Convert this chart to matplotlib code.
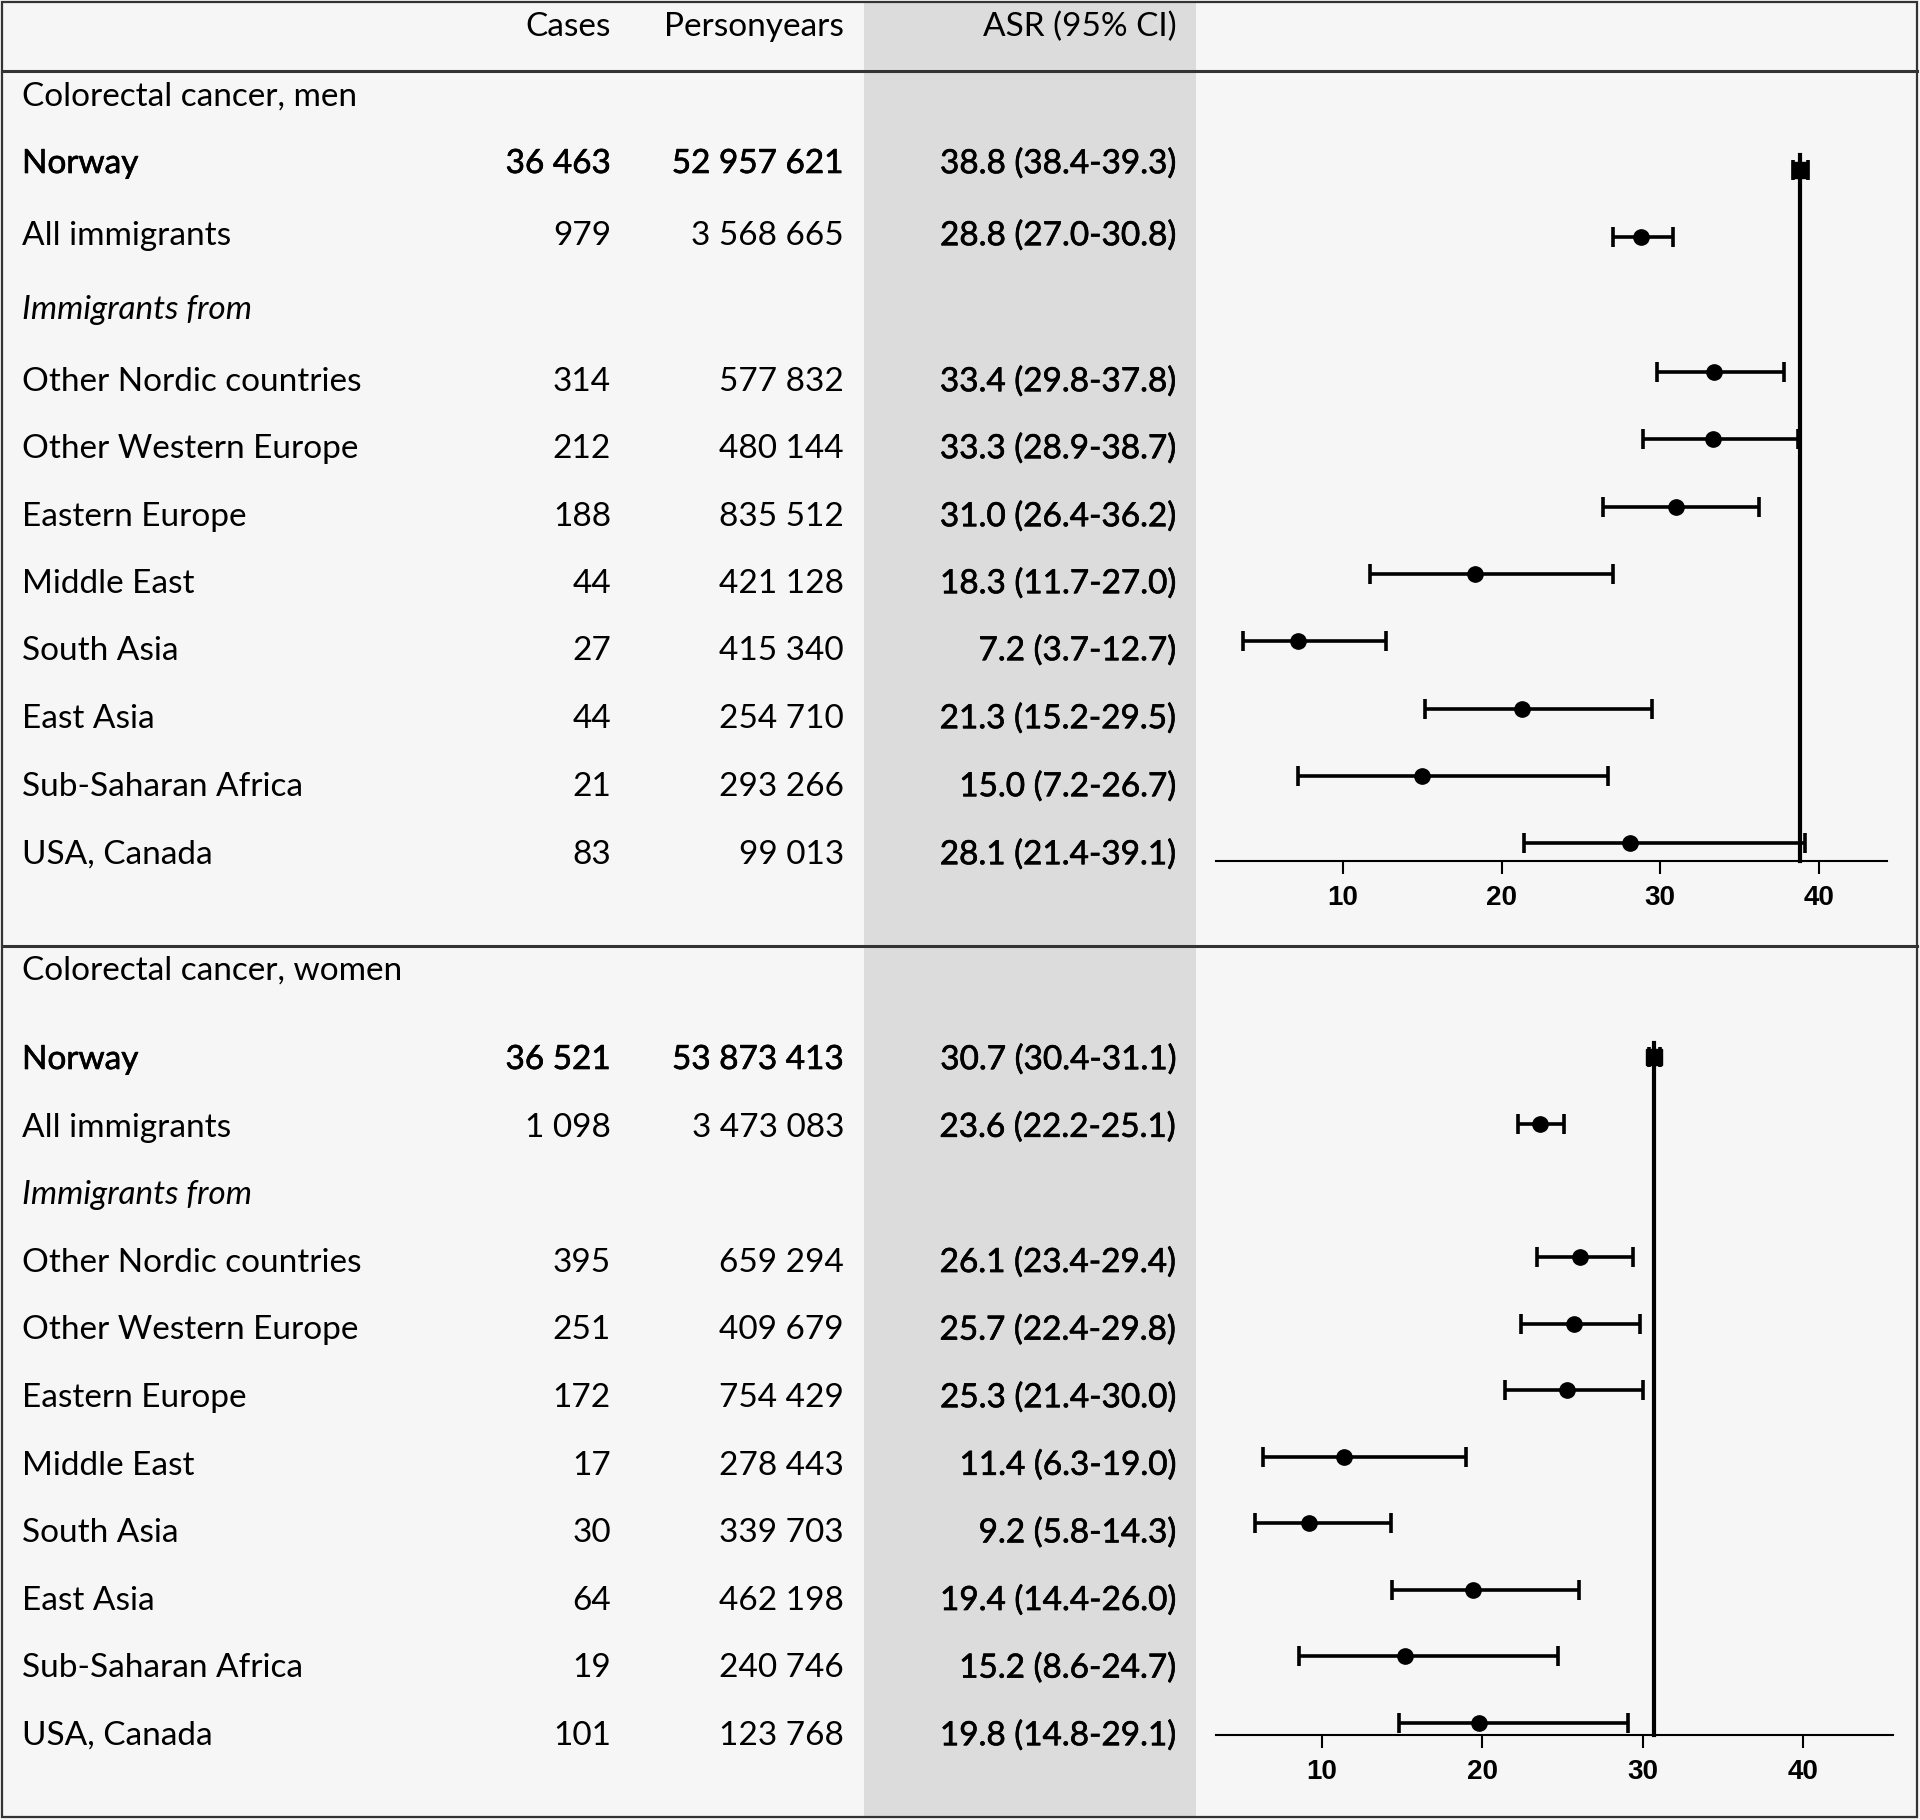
import matplotlib
matplotlib.use("Agg")
import matplotlib.pyplot as plt
from matplotlib.patches import Rectangle
import matplotlib.patheffects as pe

plt.rcParams['font.family'] = ['Lato', 'DejaVu Sans']

W, H = 1920, 1820

labels = ["Norway", "All immigrants", "Immigrants from", "Other Nordic countries",
          "Other Western Europe", "Eastern Europe", "Middle East", "South Asia",
          "East Asia", "Sub-Saharan Africa", "USA, Canada"]

men_cases = ["36 463", "979", "", "314", "212", "188", "44", "27", "44", "21", "83"]
men_py = ["52 957 621", "3 568 665", "", "577 832", "480 144", "835 512", "421 128",
          "415 340", "254 710", "293 266", "99 013"]
men_asr = [38.8, 28.8, None, 33.4, 33.3, 31.0, 18.3, 7.2, 21.3, 15.0, 28.1]
men_lo = [38.4, 27.0, None, 29.8, 28.9, 26.4, 11.7, 3.7, 15.2, 7.2, 21.4]
men_hi = [39.3, 30.8, None, 37.8, 38.7, 36.2, 27.0, 12.7, 29.5, 26.7, 39.1]

women_cases = ["36 521", "1 098", "", "395", "251", "172", "17", "30", "64", "19", "101"]
women_py = ["53 873 413", "3 473 083", "", "659 294", "409 679", "754 429", "278 443",
            "339 703", "462 198", "240 746", "123 768"]
women_asr = [30.7, 23.6, None, 26.1, 25.7, 25.3, 11.4, 9.2, 19.4, 15.2, 19.8]
women_lo = [30.4, 22.2, None, 23.4, 22.4, 21.4, 6.3, 5.8, 14.4, 8.6, 14.8]
women_hi = [31.1, 25.1, None, 29.4, 29.8, 30.0, 19.0, 14.3, 26.0, 24.7, 29.1]

headers = ["Cases", "Personyears", "ASR (95% CI)"]
ticks = [10, 20, 30, 40]

BG = "#f6f6f6"
BAND = "#dcdcdc"
FS = 24
heavy = [pe.withStroke(linewidth=0.45, foreground="black")]

# text row positions (pixels from top)
men_rows = [164, 236, 310, 382, 449, 517, 584, 651, 719, 787, 855]
women_rows = [1060 + 67.6 * i for i in range(len(labels))]

fig = plt.figure(figsize=(19.2, 18.2), dpi=100, facecolor=BG)
tab = fig.add_axes([0, 0, 1, 1])
tab.set_xlim(0, W)
tab.set_ylim(H, 0)
tab.axis("off")

# grey ASR column band, frame and separators
tab.add_patch(Rectangle((864, 3), 332, H - 6, facecolor=BAND, edgecolor="none"))
tab.add_patch(Rectangle((2, 2), W - 5, H - 5, fill=False, edgecolor="#333333", lw=1.6))
tab.plot([2, W - 3], [71, 71], color="#333333", lw=2.2)
tab.plot([2, W - 3], [946, 946], color="#333333", lw=2.2)

col_x = [611, 844, 1177]
for x, h in zip(col_x, headers):
    tab.text(x, 27, h, ha="right", va="center", fontsize=FS)


def panel(title, title_y, rows, cases, py, asr, lo, hi, ax_rect, ymax, xlim):
    tab.text(22, title_y, title, ha="left", va="center", fontsize=FS)
    for i, lab in enumerate(labels):
        y = rows[i]
        style = "italic" if asr[i] is None else "normal"
        eff = heavy if i == 0 else None
        tab.text(22, y, lab, ha="left", va="center", fontsize=FS, style=style, path_effects=eff)
        if asr[i] is None:
            continue
        tab.text(col_x[0], y, cases[i], ha="right", va="center", fontsize=FS, path_effects=eff)
        tab.text(col_x[1], y, py[i], ha="right", va="center", fontsize=FS, path_effects=eff)
        tab.text(col_x[2], y, f"{asr[i]:.1f} ({lo[i]:.1f}-{hi[i]:.1f})", ha="right",
                 va="center", fontsize=FS, path_effects=heavy)

    l, t, r, b = ax_rect
    ax = fig.add_axes([l / W, 1 - b / H, (r - l) / W, (b - t) / H])
    ax.set_facecolor("none")
    ax.set_xlim(*xlim)
    ax.set_ylim(ymax, -0.5)
    idx = [i for i in range(len(labels)) if asr[i] is not None]
    ref = asr[0]
    ax.plot([ref, ref], [-0.22, ymax], color="black", lw=3, zorder=1, clip_on=False)
    for i in idx:
        marker = "s" if i == 0 else "o"
        ax.errorbar(asr[i], i, xerr=[[asr[i] - lo[i]], [hi[i] - asr[i]]], fmt=marker,
                    color="black", ms=11 if i else 12, elinewidth=2.6, capsize=7,
                    capthick=2.6, zorder=3)
    for s in ["top", "left", "right"]:
        ax.spines[s].set_visible(False)
    ax.spines["bottom"].set_linewidth(1.5)
    ax.set_yticks([])
    ax.set_xticks(ticks)
    ax.tick_params(axis="x", length=9, width=1.5, pad=8, labelsize=20)
    for lb in ax.get_xticklabels():
        lb.set_fontfamily("Liberation Sans")
        lb.set_fontweight("bold")
    return ax


panel("Colorectal cancer, men", 97, men_rows, men_cases, men_py, men_asr, men_lo, men_hi,
      (1216, 136, 1887, 861), 10.26, (2.0, 44.3))
panel("Colorectal cancer, women", 971, women_rows, women_cases, women_py, women_asr,
      women_lo, women_hi, (1216, 1024, 1893, 1735), 10.18, (3.4, 45.6))

fig.savefig("out.png", dpi=100, facecolor=BG)
